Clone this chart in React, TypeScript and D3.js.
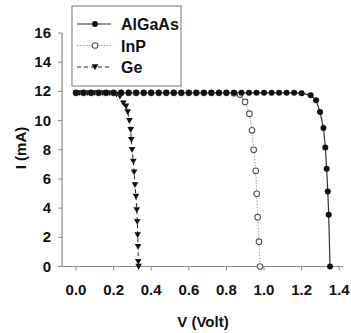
import React from "react";
import * as d3 from "d3";

// I-V curves, V in volts, I in mA
const algaasV = [
  0, 0.04, 0.08, 0.12, 0.16, 0.2, 0.24, 0.28, 0.32, 0.36, 0.4, 0.44, 0.48, 0.52, 0.56, 0.6,
  0.64, 0.68, 0.72, 0.76, 0.8, 0.84, 0.88, 0.92, 0.96, 1.0, 1.04, 1.08, 1.12, 1.16, 1.2,
  1.248, 1.277, 1.298, 1.316, 1.326, 1.333, 1.339, 1.344, 1.351,
];
const algaasI = [
  11.9, 11.9, 11.9, 11.9, 11.9, 11.9, 11.9, 11.9, 11.9, 11.9, 11.9, 11.9, 11.9, 11.9, 11.9, 11.9,
  11.9, 11.9, 11.9, 11.9, 11.9, 11.9, 11.9, 11.9, 11.9, 11.9, 11.9, 11.9, 11.9, 11.9, 11.88,
  11.73, 11.39, 10.59, 9.49, 8.16, 6.7, 5.14, 3.54, 0,
];

const inpV = [
  0, 0.04, 0.08, 0.12, 0.16, 0.2, 0.24, 0.28, 0.32, 0.36, 0.4, 0.44, 0.48, 0.52, 0.56, 0.6,
  0.64, 0.68, 0.72, 0.76, 0.8, 0.84,
  0.872, 0.899, 0.922, 0.936, 0.945, 0.956, 0.961, 0.966, 0.973, 0.979,
];
const inpI = [
  11.9, 11.9, 11.9, 11.9, 11.9, 11.9, 11.9, 11.9, 11.9, 11.9, 11.9, 11.9, 11.9, 11.9, 11.9, 11.9,
  11.9, 11.9, 11.9, 11.9, 11.9, 11.88,
  11.78, 11.28, 10.47, 9.33, 8.0, 6.56, 4.98, 3.38, 1.7, 0,
];

const geV = [
  0, 0.02, 0.04, 0.06, 0.08, 0.1, 0.12, 0.14, 0.16, 0.18, 0.2, 0.215,
  0.234, 0.252, 0.266, 0.275, 0.284, 0.291, 0.294, 0.298, 0.305, 0.309, 0.314, 0.319,
  0.323, 0.326, 0.328, 0.33, 0.331, 0.333,
];
const geI = [
  11.9, 11.9, 11.9, 11.9, 11.9, 11.9, 11.9, 11.9, 11.9, 11.88, 11.86, 11.8,
  11.66, 11.2, 10.98, 10.59, 9.99, 9.37, 8.69, 8.0, 7.2, 6.47, 5.6, 4.8,
  3.88, 3.08, 2.16, 1.36, 0.33, 0,
];

const xTicks = [0, 0.2, 0.4, 0.6, 0.8, 1.0, 1.2, 1.4];
const yTicks = [0, 2, 4, 6, 8, 10, 12, 14, 16];
const seriesNames = ["AlGaAs", "InP", "Ge"];

const W = 351;
const H = 333;
const FONT = "'Liberation Sans', Arial, sans-serif";
const AXIS = "#8a8a8a";

const x = d3.scaleLinear().domain([-0.0745, 1.42]).range([62, 343]);
const y = d3.scaleLinear().domain([0, 16]).range([266.5, 33]);

const toPts = (vs: number[], is: number[]) => vs.map((v, i) => [v, is[i]] as [number, number]);
const lineGen = d3
  .line<[number, number]>()
  .x((d) => x(d[0]))
  .y((d) => y(d[1]));

const tri = (cx: number, cy: number, s = 3.3) =>
  `M${cx - s},${cy - s * 0.8}L${cx + s},${cy - s * 0.8}L${cx},${cy + s * 0.95}Z`;

function Marker({ kind, cx, cy }: { kind: number; cx: number; cy: number }) {
  if (kind === 0) return <circle cx={cx} cy={cy} r={3} fill="#111" />;
  if (kind === 1)
    return <circle cx={cx} cy={cy} r={2.8} fill="#fff" stroke="#555" strokeWidth={1.1} />;
  return <path d={tri(cx, cy)} fill="#111" />;
}

export default function App() {
  const algaas = toPts(algaasV, algaasI);
  const inp = toPts(inpV, inpI);
  const ge = toPts(geV, geI);
  const lineStyles = [
    { stroke: "#333", strokeWidth: 1.2, dash: undefined as string | undefined },
    { stroke: "#999", strokeWidth: 1, dash: "1.5,1.5" },
    { stroke: "#222", strokeWidth: 1, dash: "4,3" },
  ];
  const data = [algaas, inp, ge];

  return (
    <svg
      width={W}
      height={H}
      style={{ position: "absolute", left: 0, top: 0, background: "#fff" }}
      fontFamily={FONT}
    >
      {/* axes */}
      <line x1={x.range()[0]} x2={x.range()[1]} y1={y(0)} y2={y(0)} stroke={AXIS} strokeWidth={1.2} />
      <line x1={62} x2={62} y1={y(16)} y2={y(0)} stroke={AXIS} strokeWidth={1.2} />
      {xTicks.map((t) => (
        <g key={"x" + t}>
          <line x1={x(t)} x2={x(t)} y1={y(0)} y2={y(0) + 4} stroke={AXIS} />
          <text x={x(t)} y={295} textAnchor="middle" fontSize={15} fontWeight="bold" fill="#111">
            {t.toFixed(1)}
          </text>
        </g>
      ))}
      {yTicks.map((t) => (
        <g key={"y" + t}>
          <line x1={58} x2={62} y1={y(t)} y2={y(t)} stroke={AXIS} />
          <text x={51} y={y(t) + 5} textAnchor="end" fontSize={15} fontWeight="bold" fill="#111">
            {t}
          </text>
        </g>
      ))}
      <text x={203} y={327} textAnchor="middle" fontSize={15} fontWeight="bold" fill="#111">
        V (Volt)
      </text>
      <text
        transform={`translate(26,${148}) rotate(-90)`}
        textAnchor="middle"
        fontSize={15}
        fontWeight="bold"
        fill="#111"
      >
        I (mA)
      </text>

      {/* curves */}
      {data.map((pts, k) => (
        <path
          key={"l" + k}
          d={lineGen(pts) || ""}
          fill="none"
          stroke={lineStyles[k].stroke}
          strokeWidth={lineStyles[k].strokeWidth}
          strokeDasharray={lineStyles[k].dash}
        />
      ))}
      {[2, 1, 0].map((k) =>
        data[k].map((d, i) => <Marker key={k + "-" + i} kind={k} cx={x(d[0])} cy={y(d[1])} />)
      )}

      {/* legend */}
      <rect x={72} y={6} width={109} height={80} fill="#fff" stroke={AXIS} strokeWidth={1.2} />
      {seriesNames.map((name, k) => {
        const ly = 24 + k * 21.5;
        return (
          <g key={name}>
            <line
              x1={77}
              x2={111}
              y1={ly}
              y2={ly}
              stroke={lineStyles[k].stroke}
              strokeWidth={lineStyles[k].strokeWidth}
              strokeDasharray={lineStyles[k].dash}
            />
            <Marker kind={k} cx={95} cy={ly} />
            <text x={121} y={ly + 6} fontSize={16} fontWeight="bold" fill="#111">
              {name}
            </text>
          </g>
        );
      })}
    </svg>
  );
}
